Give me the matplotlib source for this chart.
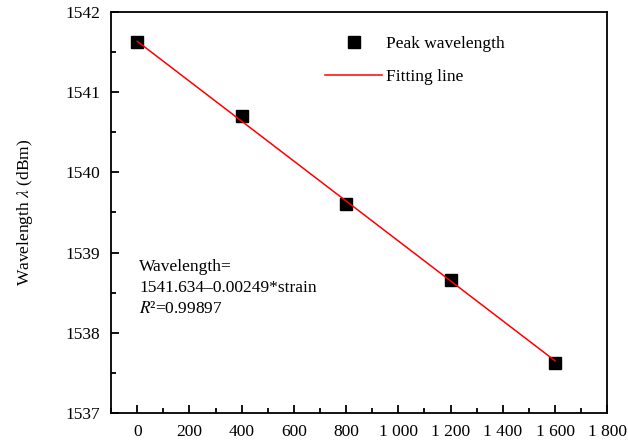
import numpy as np
import matplotlib
matplotlib.use("Agg")
import matplotlib.pyplot as plt
from matplotlib.ticker import MultipleLocator, FuncFormatter

plt.rcParams['font.family'] = ['Liberation Serif', 'DejaVu Serif']
plt.rcParams['mathtext.fontset'] = 'stix'

# data
strain = [0, 400, 800, 1200, 1600]
peak_wl = [1541.62, 1540.70, 1539.60, 1538.66, 1537.62]
fit_a = 1541.634
fit_b = -0.00249

fig = plt.figure(figsize=(6.28, 4.44), dpi=100)
ax = fig.add_axes([0.177, 0.070, 0.790, 0.903])

fit_x = np.array([strain[0], strain[-1]])
ax.plot(fit_x, fit_a + fit_b * fit_x, color='red', lw=1.1, label='Fitting line', zorder=3)
ax.plot(strain, peak_wl, 's', color='black', ms=8, label='Peak wavelength', ls='none', zorder=2)

ax.set_xlim(-100, 1800)
ax.set_ylim(1537, 1542)
ax.xaxis.set_major_locator(MultipleLocator(200))
ax.xaxis.set_minor_locator(MultipleLocator(100))
ax.yaxis.set_major_locator(MultipleLocator(1))
ax.yaxis.set_minor_locator(MultipleLocator(0.5))

def fmt_x(v, pos):
    s = '%d' % round(v)
    if len(s) > 3:
        s = s[:-3] + ' ' + s[-3:]
    return s

ax.xaxis.set_major_formatter(FuncFormatter(fmt_x))
ax.yaxis.set_major_formatter(FuncFormatter(lambda v, p: '%d' % round(v)))

ax.tick_params(which='both', direction='in', top=False, right=False, labelsize=12.5, width=1.3)
ax.tick_params(which='major', length=6, pad=8)
ax.tick_params(which='minor', length=3.5)
for sp in ax.spines.values():
    sp.set_linewidth(1.3)

ax.set_ylabel(r'Wavelength $\lambda$ (dBm)', fontsize=12.5, labelpad=22)

ax.text(7, 1538.92, 'Wavelength=\n1541.634\u20130.00249*strain\n$R$\u00b2=0.99897',
        fontsize=12.5, va='top', ha='left', linespacing=1.4)

h, l = ax.get_legend_handles_labels()
ax.legend(h[::-1], l[::-1], loc='upper left', bbox_to_anchor=(0.431, 0.94),
          frameon=False, fontsize=12.5, handlelength=3.3, handletextpad=0.2,
          labelspacing=0.97, borderpad=0, borderaxespad=0)

plt.savefig('out.png', dpi=100)
